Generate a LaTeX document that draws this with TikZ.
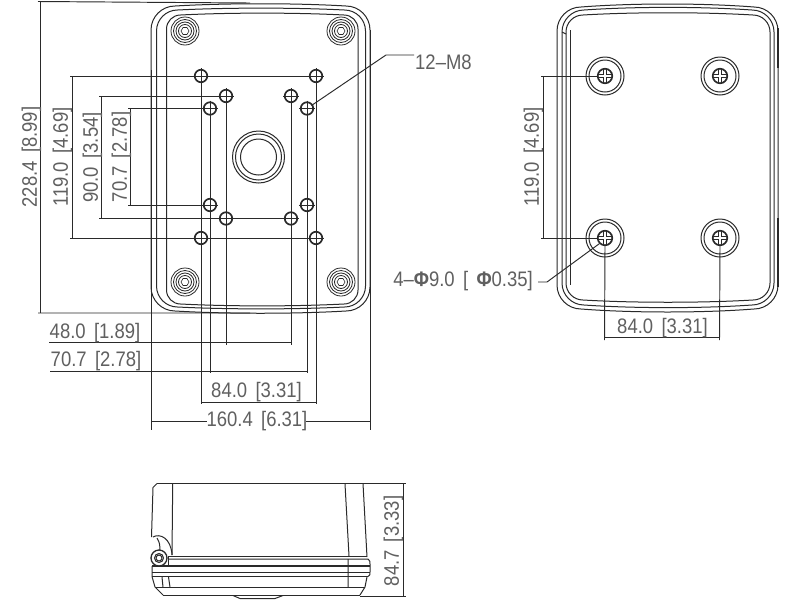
\documentclass[tikz,border=0pt]{standalone}
\usepackage{graphicx}
\usepackage{fontspec}
\usetikzlibrary{shapes.geometric}
\setmainfont{Liberation Sans}
\newcommand\bulged[6]{% left top right bottom radius bulge
  \draw[body] ({#1},{#2+#5}) .. controls ({#1},{#2+0.45*#5}) and ({#1+0.45*#5},{#2}) .. ({#1+#5},{#2})
   .. controls ({#1+#5+0.3*(#3-#1-2*#5)},{#2-#6}) and ({#3-#5-0.3*(#3-#1-2*#5)},{#2-#6}) .. ({#3-#5},{#2})
   .. controls ({#3-0.45*#5},{#2}) and ({#3},{#2+0.45*#5}) .. ({#3},{#2+#5})
   -- ({#3},{#4-#5})
   .. controls ({#3},{#4-0.45*#5}) and ({#3-0.45*#5},{#4}) .. ({#3-#5},{#4})
   .. controls ({#3-#5-0.3*(#3-#1-2*#5)},{#4+#6}) and ({#1+#5+0.3*(#3-#1-2*#5)},{#4+#6}) .. ({#1+#5},{#4})
   .. controls ({#1+0.45*#5},{#4}) and ({#1},{#4-0.45*#5}) .. ({#1},{#4-#5}) -- cycle;}
\newcommand\lab[1]{\scalebox{0.88}[1]{#1}}
\newcommand\gap{\hspace{.45em}}
\definecolor{ink}{HTML}{2A2A2A}
\definecolor{txt}{HTML}{606060}
\tikzset{
  body/.style={draw=ink,line width=1pt},
  dim/.style={draw=ink,line width=0.95pt},
  lbl/.style={text=txt,font=\fontsize{21}{21}\selectfont,inner sep=0pt},
  hlbl/.style={lbl,yshift=-1.5pt},
  vlbl/.style={lbl,xshift=1.5pt,rotate=90},
  hole/.style={draw=ink,line width=1.7pt,circle,minimum size=12.5pt,inner sep=0pt},
  screw/.style={draw=ink,line width=1.7pt,circle,minimum size=14.5pt,inner sep=0pt},
}
\begin{document}
\begin{tikzpicture}[x=1pt,y=-1pt]
\useasboundingbox (0,0) rectangle (800,600);
\fill[white] (0,0) rectangle (800,600);

% ---------- top-left view: body
\bulged{151}{6}{370}{311}{24}{3}
\bulged{156.5}{10}{365.5}{307}{21}{2.5}
\bulged{166.5}{15}{358}{304}{14}{2.5}
\foreach \p in {(185,31),(341,31),(185,282),(341,282)}{
  \foreach \r in {14,11.5,9,6.5}{\draw[body,line width=0.8pt] \p circle[radius=\r];}
  \node[draw=ink,line width=0.6pt,regular polygon,regular polygon sides=6,minimum size=8pt,inner sep=0pt] at \p {};
}
\foreach \r in {26,23,18}{\draw[body] (258.5,157) circle[radius=\r];}

% mounting holes
\foreach \n/\x/\y in {a1/201/76,a2/316/76,b1/226/96,b2/291/96,c1/210/108.5,c2/307/108.5,
                      d1/210/205,d2/307/205,e1/226/218.5,e2/291/218.5,f1/201/238,f2/316/238}{
  \node[hole] (\n) at (\x,\y) {};
  \draw[ink,line width=0.8pt] (\x-8,\y) -- (\x+8,\y) (\x,\y-8) -- (\x,\y+8);
}

% ---------- dimension helpers
\coordinate (t1) at (38,1.5);   \coordinate (t2) at (250,3);
\coordinate (u1) at (38,313);   \coordinate (u2) at (250,313);
\draw[dim] (t1) -- (t2) (u1) -- (u2);
\draw[dim] (40.5,1.5) -- (40.5,313);

\draw[dim] (70,76) -- (a1.west) (a1.east) -- (a2.west);
\draw[dim] (70,238) -- (f1.west) (f1.east) -- (f2.west);
\draw[dim] (72,76) -- (72,238);
\draw[dim] (99,96) -- (b1.west);
\draw[dim] (99,218.5) -- (e1.west) (e1.east) -- (e2.west);
\draw[dim] (101.5,96) -- (101.5,218.5);
\draw[dim] (128,108.5) -- (c1.west);
\draw[dim] (128,205) -- (d1.west);
\draw[dim] (130.5,108.5) -- (130.5,205);

\draw[dim] (a1.south) -- (201,404);
\draw[dim] (a2.south) -- (316,404);
\draw[dim] (c1.south) -- (d1.north) (d1.south) -- (210,373);
\draw[dim] (c2.south) -- (d2.north) (d2.south) -- (307,373);
\draw[dim] (b1.south) -- (e1.north) (e1.south) -- (226,345);
\draw[dim] (b2.south) -- (e2.north) (e2.south) -- (291,345);
\draw[dim] (151,70) -- (151,430);
\draw[dim] (370,30) -- (370,430);
\draw[dim] (49,342.5) -- (291,342.5);
\draw[dim] (50,371) -- (307,371);
\draw[dim] (202,402) -- (316,402);
\draw[dim] (151,421) -- (207,421) (306,421) -- (370,421);

\node[vlbl] (n1) at (30,157) {\lab{228.4\gap[8.99]}};
\node[vlbl] (n2) at (61,157) {\lab{119.0\gap[4.69]}};
\node[vlbl] (n3) at (91,157.5) {\lab{90.0\gap[3.54]}};
\node[vlbl] (n4) at (120,157) {\lab{70.7\gap[2.78]}};
\node[hlbl] (n5) at (95,332) {\lab{48.0\gap[1.89]}};
\node[hlbl] (n6) at (96,360) {\lab{70.7\gap[2.78]}};
\node[hlbl] (n7) at (256.5,391) {\lab{84.0\gap[3.31]}};
\node[hlbl] (n8) at (257,420) {\lab{160.4\gap[6.31]}};

\node[hlbl,anchor=west] (m8) at (415,60.5) {\lab{12–M8}};
\coordinate (m8k) at (386,55);
\draw[dim] (c2) ++(4.5,-3) -- (m8k) -- (414,55);

% ---------- top-right view
\bulged{557}{7}{778}{309}{24}{4}
\bulged{562}{10}{774}{305}{22}{3.5}
\bulged{566}{15}{770}{300}{17}{3}
\draw[body] (570,30) -- (570,285);
\draw[body] (562,32) -- (566,34);
\draw[ink,line width=1.5pt] (778,28) -- (778,68) (778,218) -- (778,287);

\foreach \n/\x/\y in {s1/605/76,s2/720/76,s3/605/238,s4/720/238}{
  \draw[body] (\x,\y) circle[radius=19] (\x,\y) circle[radius=16];
  \node[screw] (\n) at (\x,\y) {};
  \draw[ink,line width=0.8pt] (\x-1.5,\y-6) -- (\x-1.5,\y-1.5) -- (\x-6,\y-1.5) (\x-6,\y+1.5) -- (\x-1.5,\y+1.5) -- (\x-1.5,\y+6)
     (\x+1.5,\y-6) -- (\x+1.5,\y-1.5) -- (\x+6,\y-1.5) (\x+6,\y+1.5) -- (\x+1.5,\y+1.5) -- (\x+1.5,\y+6);
}
\draw[dim] (541,76) -- (s1.west);
\draw[dim] (541,238) -- (s3.west);
\draw[dim] (543.5,76) -- (543.5,238);
\draw[dim] (s3.south) -- (604.5,340);
\draw[dim] (s4.south) -- (719.5,340);
\draw[dim] (604.5,337.5) -- (719.5,337.5);
\node[vlbl] (r1) at (532,157) {\lab{119.0\gap[4.69]}};
\node[hlbl] (r2) at (662.5,327) {\lab{84.0\gap[3.31]}};
\node[hlbl,anchor=east] (r3) at (533,280) {\lab{4–{\bfseries Φ}9.0\gap[\gap{\bfseries Φ}0.35]}};
\coordinate (r4) at (538,282);
\coordinate (r5) at (547,282);
\draw[dim] (r4) -- (r5) -- (s3.south west);

% ---------- bottom side view
\draw[body] (151.5,537) -- (153,487.5) -- (157,483.5);
\draw[ink,line width=1.5pt] (157,483.5) -- (363,483.5);
\draw[body] (363,483.5) -- (367,557);
\draw[body] (172.7,484) -- (172,555);
\draw[body] (345,484) -- (349,556) (348,559) -- (348,587);
\draw[body] (153,537) .. controls (160,533) and (171,538) .. (172,555);
\draw[body] (157,538) .. controls (160,543) and (160,546) .. (160,550);
\draw[body] (168,556) -- (367,556);
\draw[body] (168,559) -- (368,559) .. controls (370,561) .. (370,564) -- (370,572) .. controls (370,575) .. (368,576.5);
\draw[ink,line width=1.3pt] (152,566) -- (370,566);
\draw[body] (152,572) -- (370,572);
\draw[body] (152,576.5) -- (368,576.5);
\draw[body] (152,566) -- (152,576.5) -- (155,587) -- (163,595);
\draw[body] (155,587) -- (365,587);
\draw[body] (367,577) -- (365,587) -- (360,595);
\draw[ink,line width=1.3pt] (163,595.5) -- (360,595.5);
\draw[body] (168.5,577) -- (170,587);
\draw[body] (162,577) -- (163,587);
\draw[body] (233,595.5) -- (240,598.5) -- (275,598.5) -- (283,595.5);
\fill[white] (159,558) circle[radius=8];
\draw[ink,line width=1.3pt] (159,558) circle[radius=8];
\draw[body] (159,558) circle[radius=4.5];
\draw[body] (159,558) circle[radius=3];
\draw[body] (152,566) -- (168,566) -- (168,557);

\draw[dim] (363,483) -- (406,483);
\draw[dim] (360,596) -- (406,596);
\draw[dim] (403,483) -- (403,596);
\node[vlbl] (h1) at (392,541) {\lab{84.7\gap[3.33]}};
\end{tikzpicture}
\end{document}
